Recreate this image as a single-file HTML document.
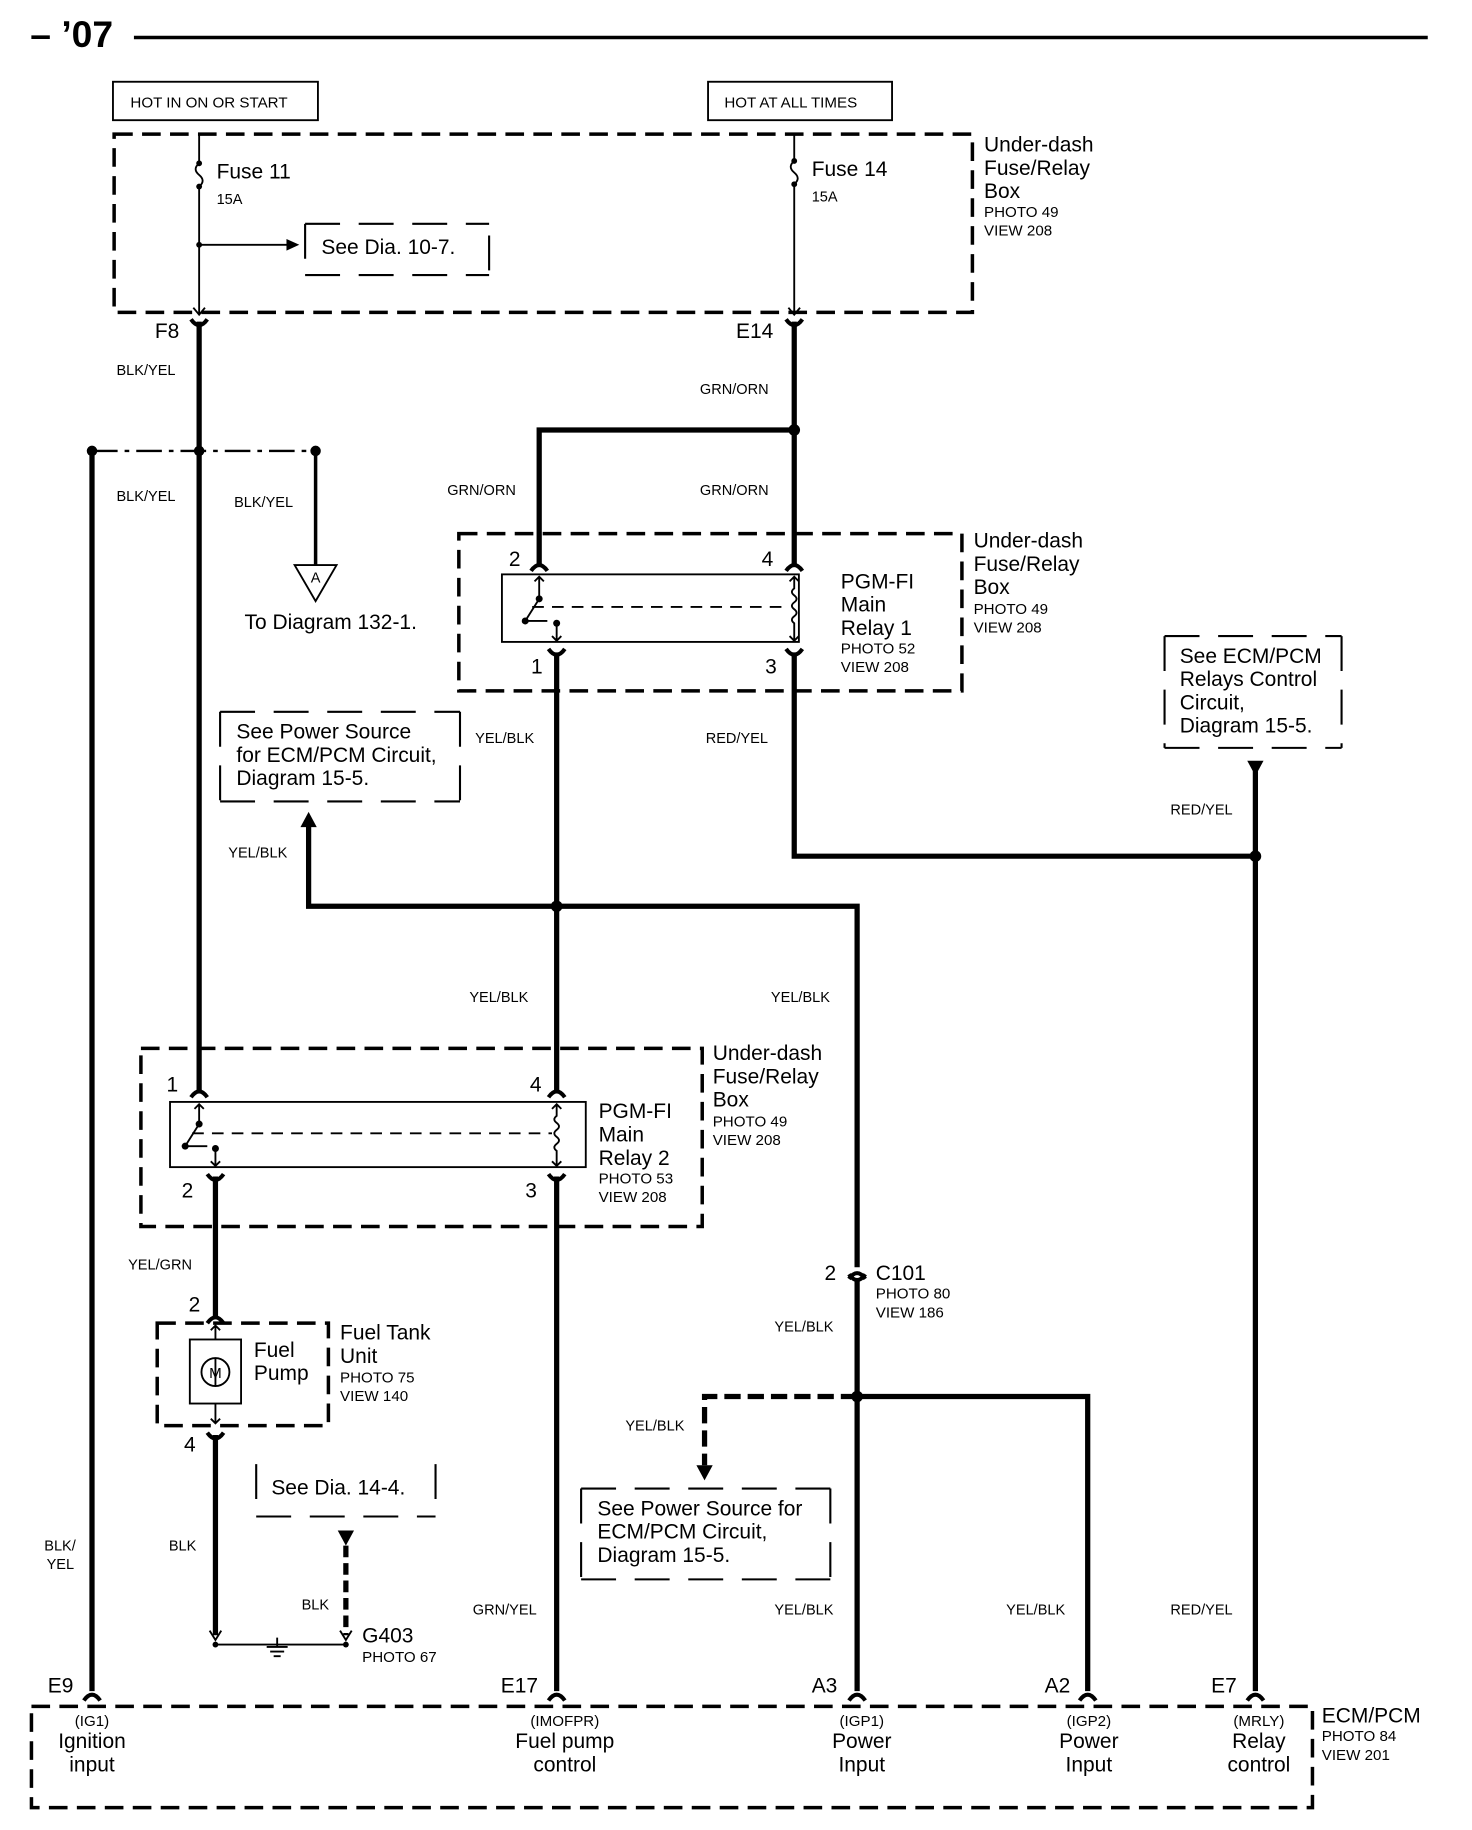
<!DOCTYPE html>
<html><head><meta charset="utf-8"><style>
html,body{margin:0;padding:0;background:#fff}
svg{display:block}
text{font-family:"Liberation Sans",Arial,sans-serif;fill:#000}
.t18{font-size:18px}.t13{font-size:13px}.t12{font-size:12.5px}
.w{stroke:#000;stroke-width:4.5;fill:none}
.n{stroke:#000;stroke-width:1.6;fill:none}
.d{stroke:#000;stroke-width:3;fill:none;stroke-dasharray:16 8}
.ds{stroke:#000;stroke-width:1.8;fill:none;stroke-dasharray:30 16}
</style></head><body>
<svg width="1472" height="1830" viewBox="0 0 1264 1571" xmlns="http://www.w3.org/2000/svg">
<defs>
<g id="fc"><path d="M-7,8 Q0,-2 7,8" stroke="#000" stroke-width="3.5" fill="none"/></g>
<g id="mc"><path d="M-7,-6 Q0,4 7,-6" stroke="#000" stroke-width="3.5" fill="none"/></g>
</defs>
<!-- header -->
<text x="26" y="40" style="font-size:32px;font-weight:bold">– ’07</text>
<line x1="115" y1="32" x2="1226" y2="32" stroke="#000" stroke-width="3"/>
<rect x="97" y="70" width="176" height="33" class="n" stroke-width="2"/>
<text x="112" y="92" class="t13">HOT IN ON OR START</text>
<rect x="608" y="70" width="158" height="33" class="n" stroke-width="2"/>
<text x="622" y="92" class="t13">HOT AT ALL TIMES</text>
<!-- fuse box -->
<rect x="98" y="115" width="737" height="153" class="d"/>
<text x="845" y="130" class="t18">Under-dash</text><text x="845" y="150" class="t18">Fuse/Relay</text><text x="845" y="170" class="t18">Box</text>
<text x="845" y="186" class="t13">PHOTO 49</text><text x="845" y="202" class="t13">VIEW 208</text>
<!-- fuse 11 -->
<path d="M171,115 V140 q-6,5 0,10 q6,5 0,10 V270" class="n" stroke-width="1.8"/>
<circle cx="171" cy="140" r="2.5"/><circle cx="171" cy="160" r="2.5"/><circle cx="171" cy="210" r="2.5"/>
<path d="M166,264 L171,270 L176,264" class="n"/>
<text x="186" y="153" class="t18">Fuse 11</text><text x="186" y="175" class="t12">15A</text>
<line x1="171" y1="210" x2="248" y2="210" class="n"/><path d="M246,205 L257,210 L246,215Z"/>
<path d="M262,192 V226 M420,202 V236 M262,192 H420 M262,236 H420" class="ds"/>
<text x="276" y="218" class="t18">See Dia. 10-7.</text>
<!-- fuse 14 -->
<path d="M682,115 V138 q-6,5 0,10 q6,5 0,10 V270" class="n" stroke-width="1.8"/>
<circle cx="682" cy="138" r="2.5"/><circle cx="682" cy="158" r="2.5"/>
<path d="M677,264 L682,270 L687,264" class="n"/>
<text x="697" y="151" class="t18">Fuse 14</text><text x="697" y="173" class="t12">15A</text>
<!-- F8/E14 -->
<text x="133" y="290" class="t18">F8</text><text x="632" y="290" class="t18">E14</text>
<use href="#mc" x="171" y="280"/><use href="#mc" x="682" y="280"/>
<line x1="171" y1="276" x2="171" y2="938" class="w"/>
<line x1="682" y1="276" x2="682" y2="486" class="w"/>
<text x="100" y="322" class="t12">BLK/YEL</text>
<text x="601" y="338" class="t12">GRN/ORN</text>
<!-- dash-dot line -->
<path d="M79,387 H271" stroke="#000" stroke-width="2" stroke-dasharray="22 6 4 6" fill="none"/>
<circle cx="79" cy="387" r="4.5"/><circle cx="171" cy="387" r="4.5"/><circle cx="271" cy="387" r="4.5"/>
<line x1="79" y1="387" x2="79" y2="1452" class="w"/>
<line x1="271" y1="387" x2="271" y2="485" stroke="#000" stroke-width="3"/>
<path d="M253,485 L289,485 L271,516Z" class="n" stroke-width="1.8"/>
<text x="271" y="500" class="t12" text-anchor="middle">A</text>
<text x="210" y="540" class="t18">To Diagram 132-1.</text>
<text x="100" y="430" class="t12">BLK/YEL</text><text x="201" y="435" class="t12">BLK/YEL</text>
<!-- GRN/ORN split -->
<circle cx="682" cy="369" r="5"/>
<path d="M682,369 H463 V486" class="w"/>
<text x="384" y="425" class="t12">GRN/ORN</text><text x="601" y="425" class="t12">GRN/ORN</text>
<!-- relay 1 -->
<rect x="394" y="458" width="432" height="135" class="d"/>
<rect x="431" y="493" width="255" height="58" class="n" stroke-width="2.5"/>
<use href="#fc" x="463" y="482"/><use href="#fc" x="682" y="482"/>
<use href="#mc" x="478" y="563"/><use href="#mc" x="682" y="563"/>
<text x="437" y="486" class="t18">2</text><text x="654" y="486" class="t18">4</text>
<text x="456" y="578" class="t18">1</text><text x="657" y="578" class="t18">3</text>
<path d="M463,495 V514 M459,499 L463,495 L467,499 M463,514 L451,533 M451,533 H470 M478,535 V550 M474,546 L478,550 L482,546" class="n"/>
<circle cx="463" cy="514" r="3"/><circle cx="451" cy="533" r="3"/><circle cx="478" cy="535" r="3"/>
<line x1="457" y1="521" x2="678" y2="521" class="n" stroke-dasharray="10 7" stroke-width="1.2"/>
<path d="M682,495 V505 q-4,3 0,6 q4,3 0,6 q-4,3 0,6 q4,3 0,6 q-4,3 0,6 V550 M678,499 L682,495 L686,499 M678,546 L682,550 L686,546" class="n" stroke-width="1.3"/>
<text x="722" y="505" class="t18">PGM-FI</text><text x="722" y="525" class="t18">Main</text><text x="722" y="545" class="t18">Relay 1</text>
<text x="722" y="561" class="t13">PHOTO 52</text><text x="722" y="577" class="t13">VIEW 208</text>
<text x="836" y="470" class="t18">Under-dash</text><text x="836" y="490" class="t18">Fuse/Relay</text><text x="836" y="510" class="t18">Box</text>
<text x="836" y="527" class="t13">PHOTO 49</text><text x="836" y="543" class="t13">VIEW 208</text>
<!-- below relay1 -->
<line x1="478" y1="560" x2="478" y2="938" class="w"/>
<path d="M682,560 V735 H1078" class="w"/>
<circle cx="1078" cy="735" r="5"/>
<line x1="1078" y1="662" x2="1078" y2="1452" class="w"/>
<path d="M1071,653 L1085,653 L1078,666Z"/>
<text x="408" y="638" class="t12">YEL/BLK</text><text x="606" y="638" class="t12">RED/YEL</text>
<text x="1005" y="699" class="t12">RED/YEL</text>
<path d="M189,611 V688 M395,611 V688 M189,611 H395 M189,688 H395" class="ds"/>
<text x="203" y="634" class="t18">See Power Source</text><text x="203" y="654" class="t18">for ECM/PCM Circuit,</text><text x="203" y="674" class="t18">Diagram 15-5.</text>
<path d="M1000,546 V642 M1152,546 V642 M1000,546 H1152 M1000,642 H1152" class="ds"/>
<text x="1013" y="569" class="t18">See ECM/PCM</text><text x="1013" y="589" class="t18">Relays Control</text><text x="1013" y="609" class="t18">Circuit,</text><text x="1013" y="629" class="t18">Diagram 15-5.</text>
<!-- YEL/BLK horizontal -->
<path d="M265,708 V778 H736 V1088" class="w"/>
<path d="M258,710 L272,710 L265,697Z"/>
<circle cx="478" cy="778" r="5"/>
<text x="196" y="736" class="t12">YEL/BLK</text>
<text x="403" y="860" class="t12">YEL/BLK</text><text x="662" y="860" class="t12">YEL/BLK</text>
<!-- relay 2 -->
<rect x="121" y="900" width="482" height="153" class="d"/>
<rect x="146" y="946" width="357" height="56" class="n" stroke-width="2.5"/>
<use href="#fc" x="171" y="934"/><use href="#fc" x="478" y="934"/>
<use href="#mc" x="185" y="1014"/><use href="#mc" x="478" y="1014"/>
<text x="143" y="937" class="t18">1</text><text x="455" y="937" class="t18">4</text>
<text x="156" y="1028" class="t18">2</text><text x="451" y="1028" class="t18">3</text>
<path d="M171,948 V965 M167,952 L171,948 L175,952 M171,965 L159,984 M159,984 H178 M185,986 V1001 M181,997 L185,1001 L189,997" class="n"/>
<circle cx="171" cy="965" r="3"/><circle cx="159" cy="984" r="3"/><circle cx="185" cy="986" r="3"/>
<line x1="165" y1="973" x2="474" y2="973" class="n" stroke-dasharray="10 7" stroke-width="1.2"/>
<path d="M478,948 V958 q-4,3 0,6 q4,3 0,6 q-4,3 0,6 q4,3 0,6 q-4,3 0,6 V1001 M474,952 L478,948 L482,952 M474,997 L478,1001 L482,997" class="n" stroke-width="1.3"/>
<text x="514" y="960" class="t18">PGM-FI</text><text x="514" y="980" class="t18">Main</text><text x="514" y="1000" class="t18">Relay 2</text>
<text x="514" y="1016" class="t13">PHOTO 53</text><text x="514" y="1032" class="t13">VIEW 208</text>
<text x="612" y="910" class="t18">Under-dash</text><text x="612" y="930" class="t18">Fuse/Relay</text><text x="612" y="950" class="t18">Box</text>
<text x="612" y="967" class="t13">PHOTO 49</text><text x="612" y="983" class="t13">VIEW 208</text>
<!-- below relay 2 -->
<line x1="185" y1="1010" x2="185" y2="1131" class="w"/>
<line x1="478" y1="1010" x2="478" y2="1452" class="w"/>
<text x="110" y="1090" class="t12">YEL/GRN</text>
<text x="162" y="1126" class="t18">2</text>
<use href="#fc" x="185" y="1128"/>
<rect x="135" y="1136" width="147" height="88" class="d"/>
<rect x="163" y="1150" width="44" height="55" class="n" stroke-width="2.5"/>
<circle cx="185" cy="1178" r="12" class="n" stroke-width="2.2"/>
<text x="185" y="1183" class="t13" text-anchor="middle">M</text>
<path d="M185,1138 V1150 M181,1142 L185,1138 L189,1142 M185,1205 V1222 M181,1218 L185,1222 L189,1218 M185,1166 V1190" class="n" stroke-width="1.3"/>
<text x="218" y="1165" class="t18">Fuel</text><text x="218" y="1185" class="t18">Pump</text>
<text x="292" y="1150" class="t18">Fuel Tank</text><text x="292" y="1170" class="t18">Unit</text>
<text x="292" y="1187" class="t13">PHOTO 75</text><text x="292" y="1203" class="t13">VIEW 140</text>
<text x="158" y="1246" class="t18">4</text>
<use href="#mc" x="185" y="1236"/>
<line x1="185" y1="1232" x2="185" y2="1404" class="w"/>
<path d="M180,1400 L185,1408 L190,1400" class="n"/>
<text x="145" y="1331" class="t12">BLK</text>
<line x1="185" y1="1412" x2="297" y2="1412" class="n" stroke-width="1.8"/>
<circle cx="185" cy="1412" r="2.5"/><circle cx="297" cy="1412" r="2.5"/>
<path d="M238,1406 V1414 M229,1414 H247 M232,1418 H244 M235,1422 H241" class="n"/>
<path d="M220,1257 V1302 M374,1257 V1302 M220,1302 H374" class="ds"/>
<text x="233" y="1283" class="t18">See Dia. 14-4.</text>
<path d="M290,1314 L304,1314 L297,1327Z"/>
<line x1="297" y1="1327" x2="297" y2="1404" stroke="#000" stroke-width="4.5" stroke-dasharray="10 5"/>
<path d="M292,1400 L297,1408 L302,1400" class="n"/>
<text x="259" y="1382" class="t12">BLK</text>
<text x="311" y="1410" class="t18">G403</text><text x="311" y="1427" class="t13">PHOTO 67</text>
<!-- C101 -->
<use href="#fc" x="736" y="1090"/><use href="#mc" x="736" y="1100"/>
<line x1="736" y1="1098" x2="736" y2="1452" class="w"/>
<text x="708" y="1099" class="t18">2</text><text x="752" y="1099" class="t18">C101</text>
<text x="752" y="1115" class="t13">PHOTO 80</text><text x="752" y="1131" class="t13">VIEW 186</text>
<text x="665" y="1143" class="t12">YEL/BLK</text>
<circle cx="736" cy="1199" r="5"/>
<path d="M736,1199 H934 V1452" class="w"/>
<path d="M736,1199 H605 V1258" stroke="#000" stroke-width="4.5" fill="none" stroke-dasharray="14 6"/>
<path d="M598,1258 L612,1258 L605,1271Z"/>
<text x="537" y="1228" class="t12">YEL/BLK</text>
<path d="M499,1278 V1356 M713,1278 V1356 M499,1278 H713 M499,1356 H713" class="ds"/>
<text x="513" y="1301" class="t18">See Power Source for</text><text x="513" y="1321" class="t18">ECM/PCM Circuit,</text><text x="513" y="1341" class="t18">Diagram 15-5.</text>
<!-- wire labels -->
<text x="38" y="1331" class="t12">BLK/</text><text x="40" y="1347" class="t12">YEL</text>
<text x="406" y="1386" class="t12">GRN/YEL</text><text x="665" y="1386" class="t12">YEL/BLK</text>
<text x="864" y="1386" class="t12">YEL/BLK</text><text x="1005" y="1386" class="t12">RED/YEL</text>
<!-- ECM -->
<rect x="27" y="1465" width="1100" height="87" class="d"/>
<use href="#fc" x="79" y="1452"/><use href="#fc" x="478" y="1452"/><use href="#fc" x="736" y="1452"/><use href="#fc" x="934" y="1452"/><use href="#fc" x="1078" y="1452"/>
<text x="41" y="1453" class="t18">E9</text><text x="430" y="1453" class="t18">E17</text><text x="697" y="1453" class="t18">A3</text><text x="897" y="1453" class="t18">A2</text><text x="1040" y="1453" class="t18">E7</text>
<g text-anchor="middle">
<text x="79" y="1482" class="t13">(IG1)</text><text x="79" y="1501" class="t18">Ignition</text><text x="79" y="1521" class="t18">input</text>
<text x="485" y="1482" class="t13">(IMOFPR)</text><text x="485" y="1501" class="t18">Fuel pump</text><text x="485" y="1521" class="t18">control</text>
<text x="740" y="1482" class="t13">(IGP1)</text><text x="740" y="1501" class="t18">Power</text><text x="740" y="1521" class="t18">Input</text>
<text x="935" y="1482" class="t13">(IGP2)</text><text x="935" y="1501" class="t18">Power</text><text x="935" y="1521" class="t18">Input</text>
<text x="1081" y="1482" class="t13">(MRLY)</text><text x="1081" y="1501" class="t18">Relay</text><text x="1081" y="1521" class="t18">control</text>
</g>
<text x="1135" y="1479" class="t18">ECM/PCM</text><text x="1135" y="1495" class="t13">PHOTO 84</text><text x="1135" y="1511" class="t13">VIEW 201</text>
</svg>
</body></html>
